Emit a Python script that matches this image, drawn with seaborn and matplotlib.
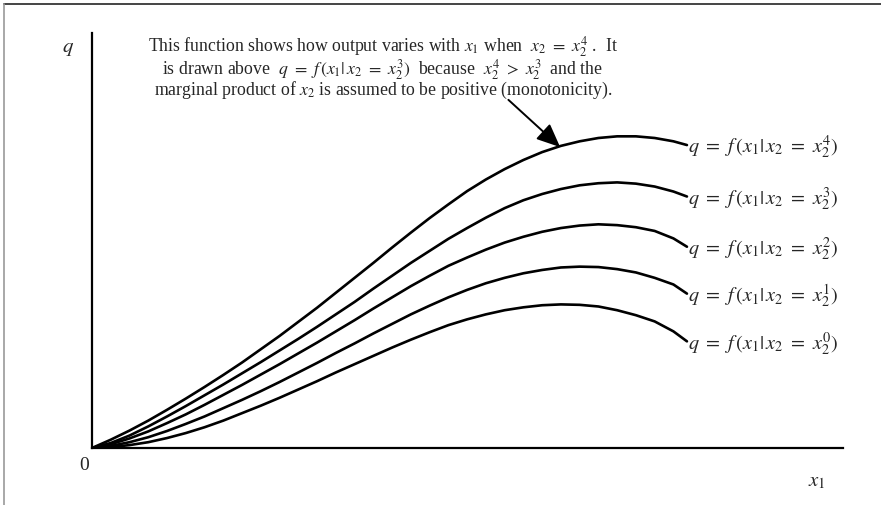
import matplotlib
matplotlib.use("Agg")
import matplotlib.pyplot as plt
from matplotlib.lines import Line2D
import pandas as pd
import seaborn as sns

# Input x1 at which each total-product curve is traced
x1 = [0.00, 0.25, 0.50, 0.75, 1.00, 1.25, 1.50, 1.75, 2.00, 2.25, 2.50,
      2.75, 3.00, 3.25, 3.50, 3.75, 4.00, 4.25, 4.50, 4.75, 5.00, 5.25,
      5.50, 5.75, 6.00, 6.25, 6.50, 6.75, 7.00, 7.25, 7.50, 7.75, 7.93]

# Output q for each fixed level of the second input x2
q_x2_0 = [0.00, 0.02, 0.07, 0.14, 0.24, 0.36, 0.50, 0.66, 0.84, 1.02, 1.21,
          1.41, 1.61, 1.82, 2.02, 2.22, 2.42, 2.61, 2.79, 2.96, 3.10, 3.22,
          3.32, 3.39, 3.44, 3.46, 3.45, 3.41, 3.32, 3.20, 3.05, 2.81, 2.57]
q_x2_1 = [0.00, 0.05, 0.14, 0.26, 0.41, 0.58, 0.76, 0.96, 1.16, 1.37, 1.59,
          1.82, 2.05, 2.29, 2.52, 2.76, 2.99, 3.22, 3.43, 3.63, 3.81, 3.97,
          4.10, 4.21, 4.29, 4.35, 4.37, 4.36, 4.31, 4.23, 4.10, 3.94, 3.72]
q_x2_2 = [0.00, 0.09, 0.23, 0.40, 0.60, 0.81, 1.04, 1.28, 1.52, 1.77, 2.02,
          2.28, 2.54, 2.81, 3.08, 3.36, 3.63, 3.90, 4.15, 4.39, 4.59, 4.78,
          4.95, 5.09, 5.21, 5.30, 5.36, 5.39, 5.37, 5.32, 5.23, 5.05, 4.85]
q_x2_3 = [0.00, 0.12, 0.30, 0.52, 0.76, 1.01, 1.27, 1.53, 1.80, 2.07, 2.35,
          2.63, 2.92, 3.22, 3.52, 3.84, 4.15, 4.46, 4.75, 5.04, 5.30, 5.55,
          5.78, 5.97, 6.12, 6.24, 6.33, 6.38, 6.40, 6.37, 6.30, 6.18, 6.06]
q_x2_4 = [0.00, 0.20, 0.42, 0.66, 0.92, 1.19, 1.47, 1.76, 2.06, 2.38, 2.70,
          3.04, 3.38, 3.74, 4.10, 4.46, 4.83, 5.19, 5.54, 5.87, 6.19, 6.47,
          6.72, 6.94, 7.13, 7.28, 7.39, 7.47, 7.51, 7.51, 7.47, 7.39, 7.30]

levels = [0, 1, 2, 3, 4]
series = [q_x2_0, q_x2_1, q_x2_2, q_x2_3, q_x2_4]

df = pd.concat(
    [pd.DataFrame({"x1": x1, "q": q, "level": lv}) for lv, q in zip(levels, series)],
    ignore_index=True,
)

sns.set_style("white")
plt.rcParams["font.family"] = ["Liberation Serif", "DejaVu Serif"]
plt.rcParams["mathtext.fontset"] = "stix"

fig = plt.figure(figsize=(8.81, 5.05), dpi=100)
ax = fig.add_axes([92 / 881, 1 - 448 / 505, (843 - 92) / 881, (448 - 33) / 505])

sns.lineplot(data=df, x="x1", y="q", hue="level", units="level", estimator=None,
             palette=["black"] * len(levels), linewidth=1.9, legend=False, ax=ax,
             sort=False)

ax.set_xlim(0, 10.01)
ax.set_ylim(0, 10)
ax.set_xticks([])
ax.set_yticks([])
ax.set_xlabel("")
ax.set_ylabel("")
for side in ["top", "right"]:
    ax.spines[side].set_visible(False)
for side in ["left", "bottom"]:
    ax.spines[side].set_color("black")
    ax.spines[side].set_linewidth(1.6)

# Curve labels at the right-hand ends
for lv, q in zip(levels, series):
    ax.text(x1[-1] + 0.02, q[-1] - 0.06,
            r"$q\ =\ f\,(x_1|\,x_2\ =\ x_2^{%d})$" % lv,
            fontsize=14.6, ha="left", va="center")

# Axis labels
fig.text(68 / 881, 1 - 48 / 505, r"$q$", fontsize=15, ha="center", va="center")
fig.text(84 / 881, 1 - 466 / 505, "0", fontsize=14, ha="center", va="center")
fig.text(817 / 881, 1 - 482 / 505, r"$x_1$", fontsize=15, ha="center", va="center")

# Explanatory note
note = "\n".join([
    r"This function shows how output varies with $x_1$ when  $x_2\ =\ x_2^4$ .  It",
    r"is drawn above  $q\ =\ f\,(x_1|\,x_2\ =\ x_2^3)$  because  $x_2^4\ >\ x_2^3$  and the",
    r"marginal product of $x_2$ is assumed to be positive (monotonicity).",
])
fig.text(383 / 881, 1 - 68 / 505, note, fontsize=12.8, ha="center", va="center",
         multialignment="center", linespacing=0.88)

# Arrow pointing at the highest curve
ax.annotate("", xy=(6.24, 7.25), xytext=(5.55, 8.39),
            arrowprops=dict(arrowstyle="-|>,head_length=0.8,head_width=0.35",
                            mutation_scale=18, lw=1.4, color="black",
                            shrinkA=0, shrinkB=0))

# Page frame edges
fig.add_artist(Line2D([4 / 881, 1], [1 - 4 / 505, 1 - 4 / 505],
                      transform=fig.transFigure, color="#444444", lw=1.4))
fig.add_artist(Line2D([4 / 881, 4 / 881], [0, 1 - 4 / 505],
                      transform=fig.transFigure, color="#999999", lw=1.2))

fig.savefig("out.png", dpi=100)
